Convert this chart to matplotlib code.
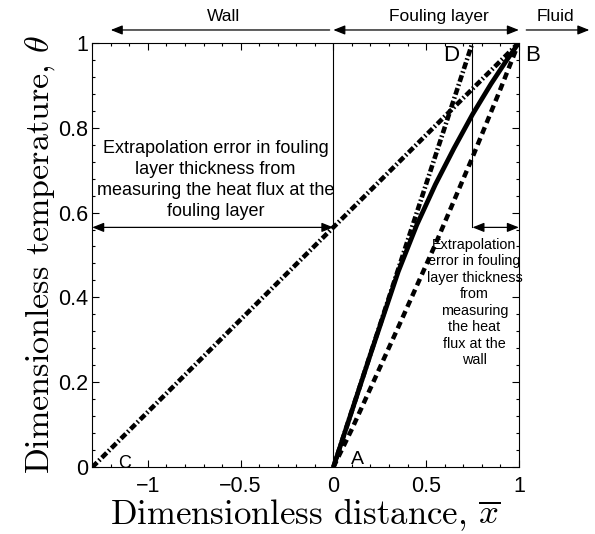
import matplotlib
matplotlib.use('Agg')
import matplotlib.pyplot as plt
from matplotlib.ticker import MultipleLocator

# temperature profile data
solid_x = [0, 0.2, 0.35, 0.45, 0.55, 0.65, 0.75, 0.85, 0.93, 1.0]
solid_t = [0, 0.266, 0.461, 0.571, 0.666, 0.751, 0.831, 0.903, 0.956, 1.0]

dashed_x = [0, 0.1, 0.35, 0.55, 0.75, 0.9, 1.0]
dashed_t = [0, 0.09, 0.33, 0.525, 0.73, 0.89, 1.0]

# extrapolated lines
wall_line_x = [-1.3, 1.0]
wall_line_t = [0.0, 1.0]
foul_line_x = [0.0, 0.75]
foul_line_t = [0.0, 1.0]

x_ticks = [-1, -0.5, 0, 0.5, 1]
x_labels = ['\u22121', '\u22120.5', '0', '0.5', '1']
y_ticks = [0, 0.2, 0.4, 0.6, 0.8, 1]
y_labels = ['0', '0.2', '0.4', '0.6', '0.8', '1']

theta_cross = 0.565   # level of the horizontal error arrows
x_D = 0.75

plt.rcParams['mathtext.fontset'] = 'cm'
sans = 'Liberation Sans'

fig = plt.figure(figsize=(5.95, 5.34), dpi=100)
ax = fig.add_axes([0.155, 0.125, 0.717, 0.795])

dashdot = (0, (1.5, 0.55, 0.35, 0.55))
ax.plot(solid_x, solid_t, color='black', lw=3.4, solid_capstyle='butt')
ax.plot(dashed_x, dashed_t, color='black', lw=3.2, linestyle=(0, (1.6, 1.05)))
ax.plot(wall_line_x, wall_line_t, color='black', lw=3.3, linestyle=dashdot)
ax.plot(foul_line_x, foul_line_t, color='black', lw=3.3, linestyle=dashdot)

# thin guide lines
ax.plot([0, 0], [0, 1], color='black', lw=0.8)
ax.plot([x_D, x_D], [theta_cross, 1], color='black', lw=0.8)

arrow = dict(arrowstyle='<|-|>,head_length=0.5,head_width=0.2', color='black',
             lw=0.9, shrinkA=0, shrinkB=0, mutation_scale=14)
one_way = dict(arrowstyle='-|>,head_length=0.5,head_width=0.2', color='black',
               lw=0.9, shrinkA=0, shrinkB=0, mutation_scale=14)

ax.annotate('', xy=(-1.3, theta_cross), xytext=(0, theta_cross), arrowprops=arrow,
            annotation_clip=False)
ax.annotate('', xy=(x_D, theta_cross), xytext=(1.0, theta_cross), arrowprops=arrow,
            annotation_clip=False)

# region arrows above the axes
top = 1.03
ax.annotate('', xy=(-1.2, top), xytext=(-0.02, top), arrowprops=one_way,
            annotation_clip=False)
ax.annotate('', xy=(0, top), xytext=(1.0, top), arrowprops=arrow,
            annotation_clip=False)
ax.annotate('', xy=(1.38, top), xytext=(1.04, top), arrowprops=one_way,
            annotation_clip=False)
ax.text(-0.59, 1.062, 'Wall', ha='center', va='center', fontsize=12.5, family=sans)
ax.text(0.567, 1.062, 'Fouling layer', ha='center', va='center', fontsize=12.5, family=sans)
ax.text(1.197, 1.062, 'Fluid', ha='center', va='center', fontsize=12.5, family=sans)

# point labels
ax.text(0.635, 0.971, 'D', ha='center', va='center', fontsize=16, family=sans)
ax.text(1.075, 0.971, 'B', ha='center', va='center', fontsize=16, family=sans,
        clip_on=False)
ax.text(0.13, 0.018, 'A', ha='center', va='center', fontsize=14, family=sans)
ax.text(-1.127, 0.008, 'C', ha='center', va='center', fontsize=13, family=sans)

ax.text(-0.635, 0.677,
        'Extrapolation error in fouling\nlayer thickness from\n'
        'measuring the heat flux at the\nfouling layer',
        ha='center', va='center', fontsize=13, family=sans, linespacing=1.3)
ax.text(0.761, 0.388,
        'Extrapolation\nerror in fouling\nlayer thickness\nfrom\nmeasuring\n'
        'the heat\nflux at the\nwall',
        ha='center', va='center', fontsize=10.4, family=sans, linespacing=1.22)

ax.set_xlim(-1.3, 1.0)
ax.set_ylim(0, 1)
ax.set_xticks(x_ticks)
ax.set_xticklabels(x_labels, family=sans, fontsize=15.5)
ax.set_yticks(y_ticks)
ax.set_yticklabels(y_labels, family=sans, fontsize=15.5)
ax.xaxis.set_minor_locator(MultipleLocator(0.1))
ax.yaxis.set_minor_locator(MultipleLocator(0.04))
ax.tick_params(which='both', direction='in', top=True, right=True, width=0.8)
ax.tick_params(which='major', length=5)
ax.tick_params(which='minor', length=2.5)
ax.tick_params(axis='x', pad=6)
ax.tick_params(axis='y', pad=3)
for s in ax.spines.values():
    s.set_linewidth(0.8)

ax.set_xlabel(r'Dimensionless distance, $\overline{x}$', family='cmr10',
              fontsize=25, labelpad=0)
ax.set_ylabel(r'Dimensionless temperature, $\theta$', family='cmr10',
              fontsize=24.5, labelpad=1)

fig.savefig('out.png', dpi=100)
